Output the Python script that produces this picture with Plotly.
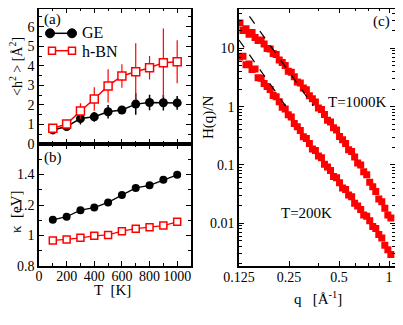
import plotly.graph_objects as go

# temperatures (K)
T = [100, 200, 300, 400, 500, 600, 700, 800, 900, 1000]

# (a) <h^2> [A^2]
ge_h2 = [0.72, 0.89, 1.30, 1.39, 1.65, 1.74, 2.04, 2.12, 2.11, 2.10]
ge_h2_err = [0.1, 0.15, 0.3, 0.25, 0.35, 0.2, 0.55, 0.4, 0.4, 0.35]
bn_h2 = [0.80, 1.02, 1.69, 2.30, 2.97, 3.48, 3.70, 3.90, 4.16, 4.21]
bn_h2_err = [0.1, 0.22, 0.4, 0.6, 0.85, 0.6, 1.45, 0.6, 1.75, 1.1]

# (b) kappa [eV]
ge_kappa = [1.103, 1.123, 1.166, 1.183, 1.217, 1.265, 1.312, 1.329, 1.366, 1.398]
bn_kappa = [0.968, 0.974, 0.985, 0.998, 1.004, 1.028, 1.045, 1.054, 1.065, 1.090]

# (c) H(q)/N
q = [0.1267, 0.1321, 0.1378, 0.1437, 0.1498, 0.1562, 0.1629, 0.1698, 0.1771, 0.1846,
     0.1925, 0.2008, 0.2093, 0.2183, 0.2276, 0.2373, 0.2475, 0.2580, 0.2690, 0.2805,
     0.2925, 0.3050, 0.3180, 0.3316, 0.3458, 0.3605, 0.3759, 0.3920, 0.4087, 0.4262,
     0.4444, 0.4634, 0.4832, 0.5038, 0.5253, 0.5478, 0.5712, 0.5956, 0.6210, 0.6475,
     0.6752, 0.7040, 0.7341, 0.7655, 0.7982, 0.8323, 0.8678, 0.9049, 0.9435, 0.9838,
     1.0258]
H_1000K = [27.2, 20.3, 21.6, 17.5, 18.7, 15.3, 13.6, 13.9, 11.85, 9.92,
           9.73, 8.14, 7.83, 6.30, 5.73, 5.07, 4.06, 3.89, 3.245, 2.653,
           2.54, 2.077, 1.95, 1.532, 1.371, 1.199, 0.950, 0.895, 0.729, 0.582,
           0.544, 0.4346, 0.3986, 0.306, 0.2695, 0.2329, 0.1823, 0.1698, 0.1366, 0.1078,
           0.0996, 0.0767, 0.0679, 0.0503, 0.0424, 0.0350, 0.0261, 0.0233, 0.01809, 0.01377,
           0.01228]
H_200K = [7.09, 7.29, 5.25, 5.40, 4.35, 4.42, 3.14, 3.07, 2.48, 2.221,
          1.965, 1.556, 1.473, 1.214, 0.973, 0.910, 0.7264, 0.666, 0.511, 0.450,
          0.3892, 0.3046, 0.2849, 0.2319, 0.1867, 0.1766, 0.1427, 0.1324, 0.1028, 0.0917,
          0.0802, 0.0635, 0.0601, 0.0495, 0.0400, 0.0379, 0.0306, 0.0284, 0.0220, 0.01965,
          0.01718, 0.01377, 0.01319, 0.0110, 0.00878, 0.00811, 0.00640, 0.00560, 0.00419, 0.00352,
          0.00290]

# dashed guide lines (end points)
guide_q_hi = [0.125, 0.35]
guide_H_hi = [63.0, 1.03]
guide_q_lo = [0.125, 0.24]
guide_H_lo = [13.9, 1.0]

# the page body adds an 8px margin, so the figure is a bit smaller and everything shifts
OFF = 8
W, Hgt = 403 - OFF, 325 - OFF
FONT = "Liberation Serif"
RED = "#ff0000"


def px(x):
    return (x - OFF) / W


def py(y):
    return 1 - (y - OFF) / Hgt


fig = go.Figure()

# panel (a)
fig.add_trace(go.Scatter(x=T, y=ge_h2, xaxis="x", yaxis="y", mode="lines+markers",
                         line=dict(color="black", width=1.5),
                         marker=dict(symbol="circle", size=9, color="black"),
                         error_y=dict(type="data", array=ge_h2_err, color="black",
                                      thickness=1.5, width=0)))
fig.add_trace(go.Scatter(x=T, y=bn_h2, xaxis="x", yaxis="y", mode="lines+markers",
                         line=dict(color=RED, width=1.5),
                         marker=dict(symbol="square", size=8, color="white",
                                     line=dict(color=RED, width=1.5)),
                         error_y=dict(type="data", array=bn_h2_err, color=RED,
                                      thickness=1.2, width=0)))
# panel (b)
fig.add_trace(go.Scatter(x=T, y=ge_kappa, xaxis="x2", yaxis="y2", mode="lines+markers",
                         line=dict(color="black", width=1.3),
                         marker=dict(symbol="circle", size=8, color="black")))
fig.add_trace(go.Scatter(x=T, y=bn_kappa, xaxis="x2", yaxis="y2", mode="lines+markers",
                         line=dict(color=RED, width=1.3),
                         marker=dict(symbol="square", size=7, color="white",
                                     line=dict(color=RED, width=1.5))))
# panel (c)
fig.add_trace(go.Scatter(x=q, y=H_1000K, xaxis="x3", yaxis="y3", mode="markers",
                         marker=dict(symbol="square", size=7, color=RED)))
fig.add_trace(go.Scatter(x=q, y=H_200K, xaxis="x3", yaxis="y3", mode="markers",
                         marker=dict(symbol="square", size=7, color=RED)))
fig.add_trace(go.Scatter(x=guide_q_hi, y=guide_H_hi, xaxis="x3", yaxis="y3", mode="lines",
                         line=dict(color="black", width=1.2, dash="dash")))
fig.add_trace(go.Scatter(x=guide_q_lo, y=guide_H_lo, xaxis="x3", yaxis="y3", mode="lines",
                         line=dict(color="black", width=1.2, dash="dash")))

axis_style = dict(showline=True, linecolor="black", linewidth=1.5, mirror="ticks",
                  ticks="inside", ticklen=5, tickwidth=1.2, tickcolor="black",
                  showgrid=False, zeroline=False, automargin=False,
                  tickfont=dict(family=FONT, size=14, color="black"))
minor_style = dict(ticks="inside", ticklen=3, tickwidth=1, tickcolor="black")

TOP = 8.5
left_dom = [px(39), px(191)]
right_dom = [px(239), px(395)]
dom_a = [py(144), py(TOP)]
dom_b = [py(266), py(144)]
dom_c = [py(266), py(TOP)]

decades = [0.001, 0.01, 0.1, 1, 10]
log_minor = [d * k for d in decades for k in range(2, 10)]

fig.update_layout(
    width=W, height=Hgt,
    margin=dict(l=0, r=0, t=0, b=0),
    paper_bgcolor="white", plot_bgcolor="white",
    showlegend=False,
    font=dict(family=FONT, color="black"),
    xaxis=dict(domain=left_dom, anchor="y", range=[0, 1100], dtick=200,
               showticklabels=False, minor=dict(dtick=100, **minor_style), **axis_style),
    yaxis=dict(domain=dom_a, anchor="x", range=[0, 6.93], tickvals=[0, 1, 2, 3, 4, 5, 6],
               minor=dict(dtick=0.5, **minor_style), **axis_style),
    xaxis2=dict(domain=left_dom, anchor="y2", range=[0, 1100], dtick=200,
                ticklabelstandoff=-4,
                minor=dict(dtick=100, **minor_style), **axis_style),
    yaxis2=dict(domain=dom_b, anchor="x2", range=[0.8, 1.6],
                tickvals=[0.8, 1.0, 1.2, 1.4], ticktext=["0.8", "1", "1.2", "1.4"],
                minor=dict(dtick=0.1, **minor_style), **axis_style),
    xaxis3=dict(domain=right_dom, anchor="y3", type="log", range=[-0.903, 0.036],
                tickvals=[0.125, 0.25, 0.5, 1], ticktext=["0.125", "0.25", "0.5", "1"],
                ticklabelstandoff=-3,
                minor=dict(tickvals=[0.375, 0.625, 0.75, 0.875], **minor_style), **axis_style),
    yaxis3=dict(domain=dom_c, anchor="x3", type="log", range=[-2.734, 1.683],
                tickvals=[0.01, 0.1, 1, 10], ticktext=["0.01", "0.1", "1", "10"],
                minor=dict(tickvals=log_minor, **minor_style), **axis_style),
)

# legend keys drawn as shapes
shapes = [
    dict(type="line", xref="paper", yref="paper", x0=px(50), x1=px(72), y0=py(33.3), y1=py(33.3),
         line=dict(color="black", width=1.5)),
    dict(type="line", xref="paper", yref="paper", x0=px(52), x1=px(72), y0=py(50.7), y1=py(50.7),
         line=dict(color=RED, width=1.5)),
]
for cx in (50, 72):
    shapes.append(dict(type="circle", xref="paper", yref="paper", xsizemode="pixel",
                       ysizemode="pixel", xanchor=px(cx), yanchor=py(33.3),
                       x0=-4.5, x1=4.5, y0=-4.5, y1=4.5,
                       fillcolor="black", line=dict(color="black", width=1)))
for cx in (52, 72):
    shapes.append(dict(type="rect", xref="paper", yref="paper", xsizemode="pixel",
                       ysizemode="pixel", xanchor=px(cx), yanchor=py(50.7),
                       x0=-3.5, x1=3.5, y0=-3.5, y1=3.5,
                       fillcolor="white", line=dict(color=RED, width=1.5)))
fig.update_layout(shapes=shapes)


def note(text, x, y, size=15, angle=0, xanchor="center"):
    fig.add_annotation(text=text, x=px(x), y=py(y), xref="paper", yref="paper",
                       showarrow=False, textangle=angle, xanchor=xanchor, yanchor="middle",
                       font=dict(family=FONT, size=size, color="black"))


note("GE", 80, 33, size=16, xanchor="left")
note("h-BN", 80, 51, size=16, xanchor="left")
note("(a)", 52, 20)
note("(b)", 53, 157)
note("(c)", 381, 22)
note("T=1000K", 357, 102)
note("T=200K", 306, 213)
note("&lt;h<sup>2</sup> &gt; [Å<sup>2</sup>]", 16, 67, size=14, angle=-90)
note("κ  [eV]", 16, 212, angle=-90)
note("T  [K]", 113, 290)
note("H(q)/N", 208, 118, angle=-90)
note("q   [Å<sup>-1</sup>]", 318, 298)

fig.write_html("out.html")
